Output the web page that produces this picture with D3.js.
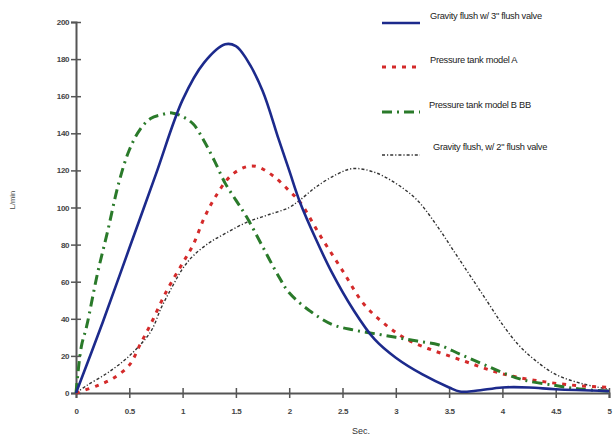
<!DOCTYPE html>
<html><head><meta charset="utf-8">
<script src="https://cdn.jsdelivr.net/npm/d3@7"></script>
<style>body{margin:0;background:#fff}svg{display:block}</style>
</head><body>
<svg id="c" width="615" height="438"></svg>
<script>
const xTicks = [0, 0.5, 1, 1.5, 2, 2.5, 3, 3.5, 4, 4.5, 5];
const xTickLabels = ["0", "0.5", "1", "1.5", "2", "2.5", "3", "3.5", "4", "4.5", "5"];
const yTicks = [0, 20, 40, 60, 80, 100, 120, 140, 160, 180, 200];

const seriesNames = ["Gravity flush w/ 3\" flush valve", "Pressure tank model A", "Pressure tank model B BB", "Gravity flush, w/ 2\" flush valve"];

const blueX = [0, 0.25, 0.5, 0.75, 1.0, 1.2, 1.4, 1.5, 1.6, 1.75, 1.9, 2.0, 2.1, 2.25, 2.4, 2.6, 2.8, 3.0, 3.25, 3.5, 3.6, 3.75, 4.0, 4.25, 4.5, 5.0];
const blueY = [0, 38, 78, 118, 158, 178, 188, 187, 180, 163, 137, 120, 103, 83, 65, 45, 29, 19, 10, 3, 0.8, 1.2, 3, 3, 2, 1];

const redX = [0, 0.2, 0.35, 0.5, 0.6, 0.7, 0.85, 1.0, 1.1, 1.2, 1.3, 1.45, 1.6, 1.7, 1.85, 2.0, 2.1, 2.3, 2.5, 2.7, 2.9, 3.1, 3.3, 3.5, 3.7, 3.9, 4.1, 4.4, 4.7, 5.0];
const redY = [0, 4, 8, 15, 26, 37, 55, 70, 80, 94, 105, 117, 122, 122, 117, 109, 103, 84, 66, 48, 37, 29, 24, 20, 16, 12, 9, 6, 4, 3];

const greenX = [0, 0.05, 0.1, 0.2, 0.3, 0.4, 0.5, 0.6, 0.7, 0.8, 0.9, 1.0, 1.1, 1.2, 1.3, 1.4, 1.5, 1.6, 1.75, 1.9, 2.0, 2.2, 2.4, 2.6, 2.8, 3.0, 3.2, 3.4, 3.6, 3.8, 4.0, 4.2, 4.5, 4.75, 5.0];
const greenY = [0, 25, 36, 64, 88, 113, 131, 142, 148, 150, 151, 149, 145, 136, 125, 113, 104, 95, 79, 63, 54, 44, 37, 34, 32, 30, 28, 26, 21, 16, 11, 7, 4, 2, 1];

const blackX = [0, 0.1, 0.3, 0.5, 0.7, 0.8, 0.9, 1.0, 1.1, 1.25, 1.4, 1.6, 1.8, 2.0, 2.1, 2.25, 2.45, 2.6, 2.8, 3.0, 3.2, 3.4, 3.55, 3.7, 3.85, 4.0, 4.15, 4.3, 4.5, 4.75, 5.0];
const blackY = [0, 4, 11, 20, 33, 46, 57, 67, 74, 81, 86, 92, 96, 100, 104, 111, 118, 121, 119, 113, 104, 89, 76, 63, 50, 37, 26, 18, 10, 5, 2];

const svg = d3.select("#c");
const x = d3.scaleLinear().domain([0, 5]).range([76, 609]);
const y = d3.scaleLinear().domain([0, 200]).range([393, 22]);
const font = "Arial, Liberation Sans, sans-serif";

// axes
const axisColor = "#555";
const yAxis = d3.axisLeft(y).tickValues(yTicks).tickSize(5).tickPadding(3);
const gy = svg.append("g").attr("transform", "translate(76,0)").call(yAxis);
gy.select(".domain").attr("stroke", axisColor).attr("stroke-width", 2);
gy.selectAll(".tick line").attr("stroke", axisColor).attr("stroke-width", 1.5).attr("x1", 5).attr("x2", -5);
gy.selectAll(".tick text").attr("font-family", font).attr("font-size", 8).attr("fill", "#444").attr("font-weight", "bold").attr("x", -7).attr("letter-spacing", -0.4);

const xAxis = d3.axisBottom(x).tickValues(xTicks).tickFormat((d, i) => xTickLabels[i]).tickSize(5).tickPadding(10);
const gx = svg.append("g").attr("transform", "translate(0,393)").call(xAxis);
gx.select(".domain").attr("stroke", axisColor).attr("stroke-width", 2);
gx.selectAll(".tick line").attr("stroke", axisColor).attr("stroke-width", 1.5).attr("y1", -5).attr("y2", 5);
gx.selectAll(".tick text").attr("font-family", font).attr("font-size", 8).attr("fill", "#444").attr("font-weight", "bold").attr("letter-spacing", -0.4);

svg.append("text").attr("transform", "translate(15,200) rotate(-90)").attr("text-anchor", "middle")
  .attr("font-family", font).attr("font-size", 7.5).attr("fill", "#444").text("L/min");
svg.append("text").attr("x", 361).attr("y", 434).attr("text-anchor", "middle")
  .attr("font-family", font).attr("font-size", 9).attr("fill", "#333").text("Sec.");

const line = d3.line().x(d => x(d[0])).y(d => y(Math.max(0, d[1]))).curve(d3.curveCatmullRom.alpha(0.5));

const styles = [
  {color: "#1c2a8c", width: 2.6, dash: null},
  {color: "#d42a2a", width: 3, dash: "4,6"},
  {color: "#2a7a2a", width: 3, dash: "10,5,2,5"},
  {color: "#333", width: 1.4, dash: "3,2,1.2,2"}
];
const data = [
  d3.zip(blueX, blueY),
  d3.zip(redX, redY),
  d3.zip(greenX, greenY),
  d3.zip(blackX, blackY)
];
const drawOrder = [3, 1, 2, 0];
drawOrder.forEach(i => {
  svg.append("path").datum(data[i]).attr("d", line).attr("fill", "none")
    .attr("stroke", styles[i].color).attr("stroke-width", styles[i].width)
    .attr("stroke-dasharray", styles[i].dash);
});

// legend
const legY = [23, 67, 112, 155];
const legTextY = [19, 63, 108, 150];
const legTextX = [430, 430, 429, 433];
seriesNames.forEach((name, i) => {
  svg.append("line").attr("x1", 382).attr("x2", 420).attr("y1", legY[i]).attr("y2", legY[i])
    .attr("stroke", styles[i].color).attr("stroke-width", styles[i].width).attr("stroke-dasharray", styles[i].dash);
  svg.append("text").attr("x", legTextX[i]).attr("y", legTextY[i])
    .attr("font-family", font).attr("font-size", 9.3).attr("fill", "#222")
    .attr("letter-spacing", -0.3).text(name);
});
</script>
</body></html>
